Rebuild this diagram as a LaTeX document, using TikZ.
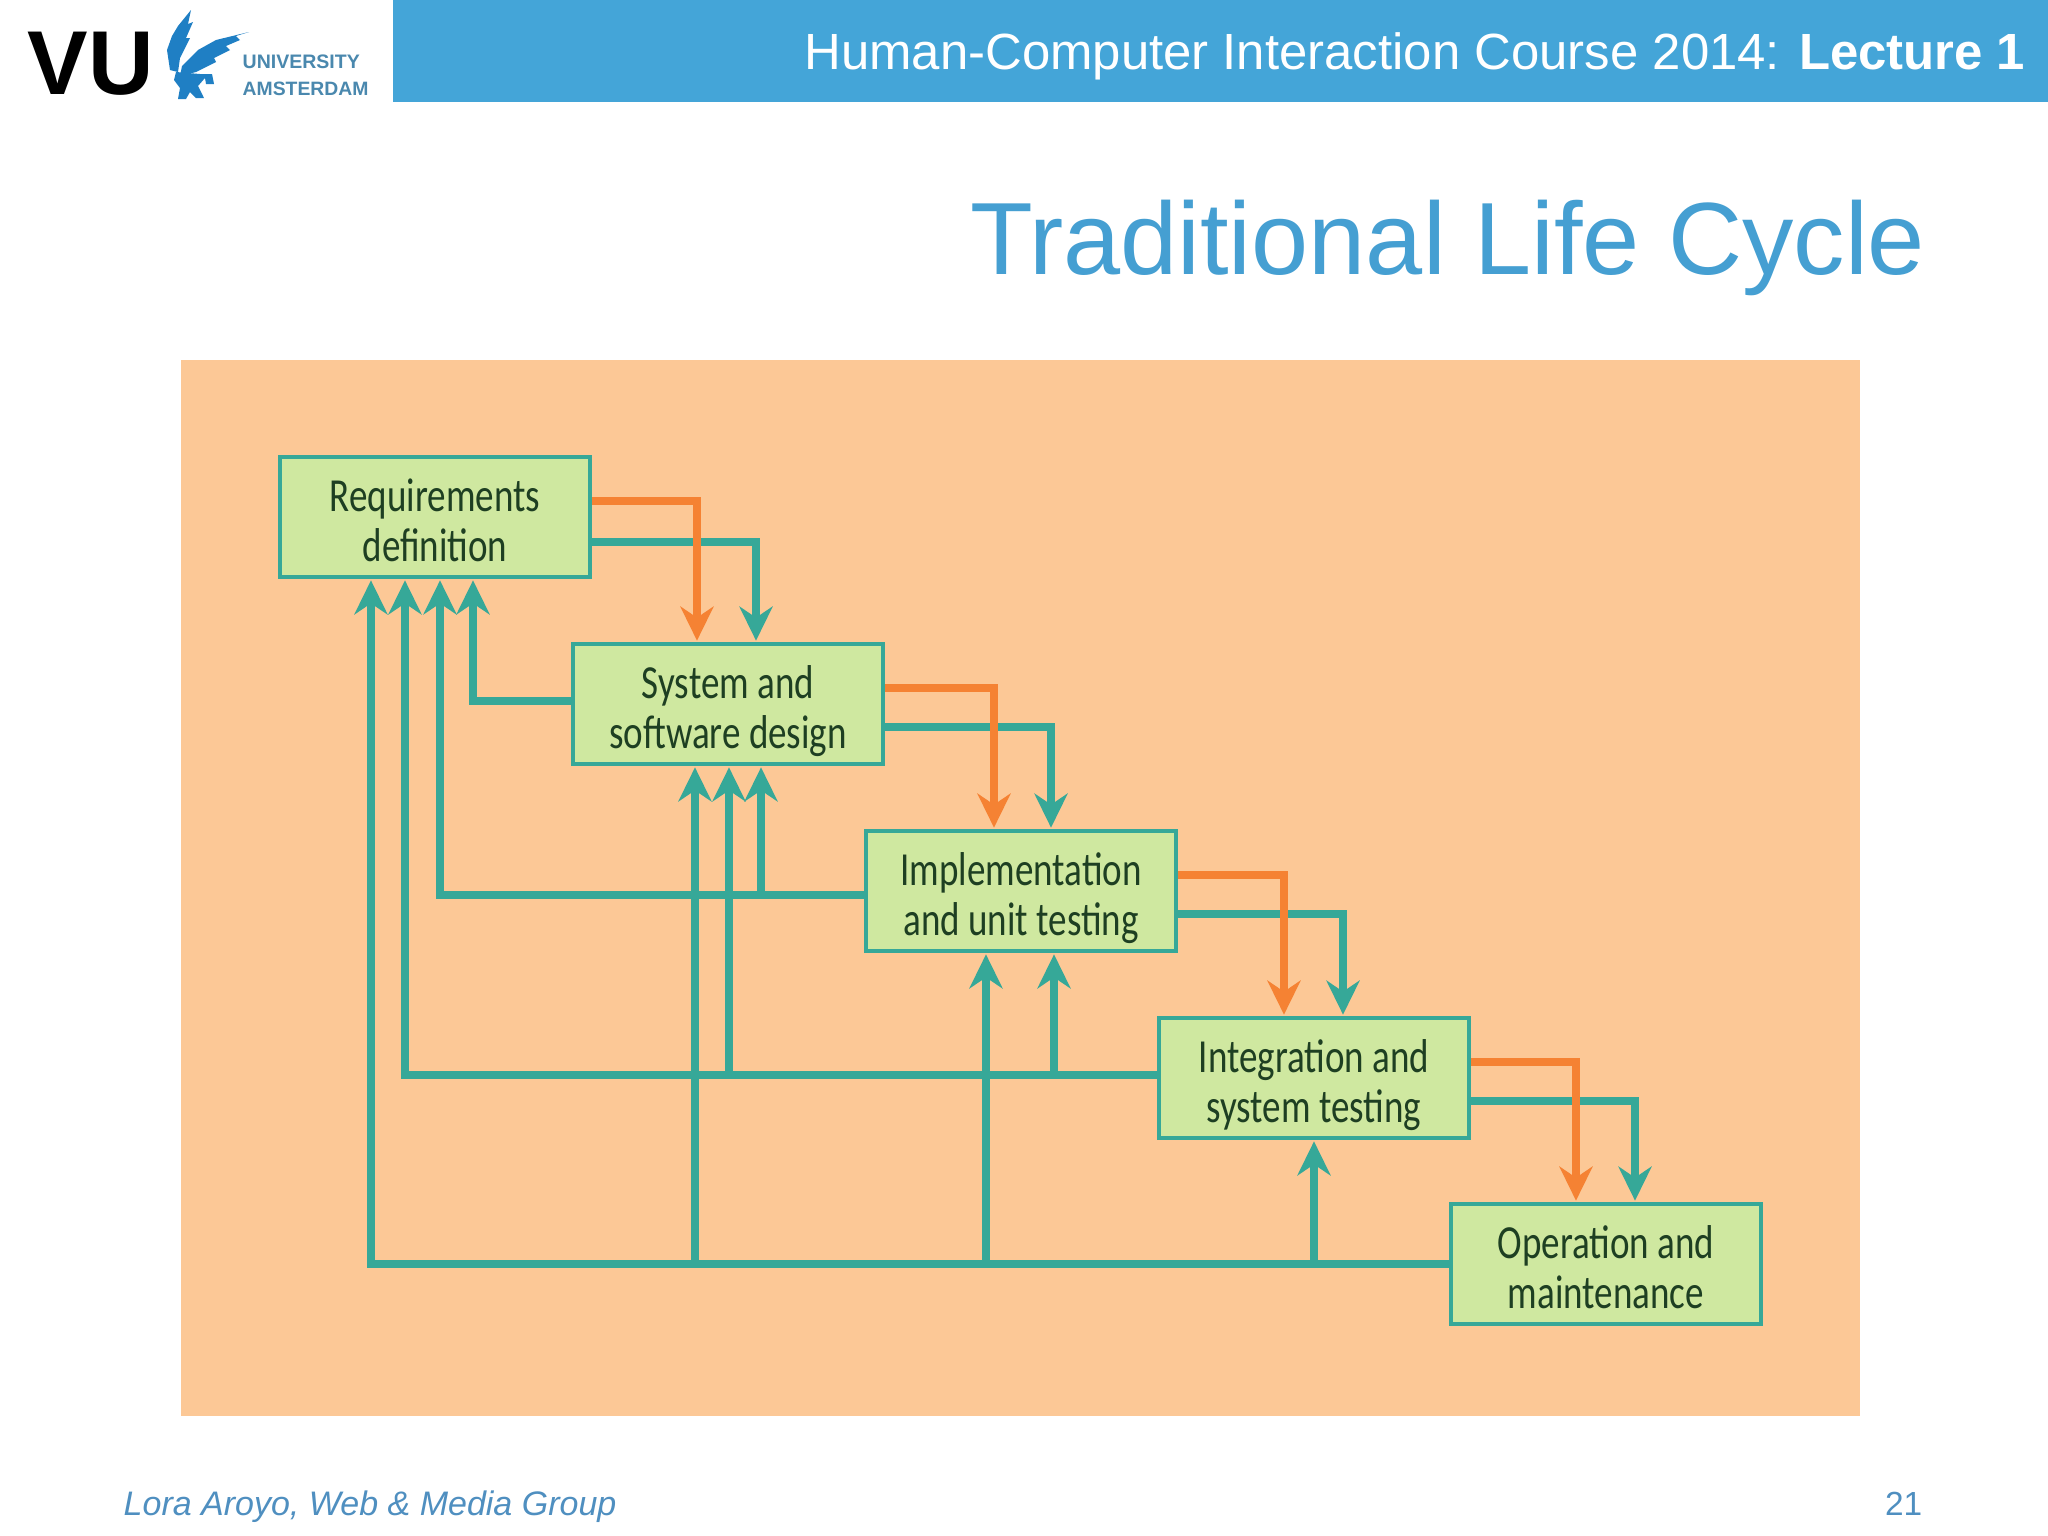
\documentclass[tikz,border=0pt]{standalone}
\usepackage{fontspec}
\setmainfont{Liberation Sans}
\newfontfamily\boxfont[FakeStretch=0.78]{Carlito}
\usetikzlibrary{arrows.meta}
\definecolor{headblue}{HTML}{44A5D8}
\definecolor{titleblue}{HTML}{459FD2}
\definecolor{footblue}{HTML}{4F8FC0}
\definecolor{panel}{HTML}{FCC896}
\definecolor{boxgreen}{HTML}{CFE8A0}
\definecolor{boxtext}{HTML}{1E3F22}
\definecolor{fbteal}{HTML}{36A898}
\definecolor{fworange}{HTML}{F58233}
\definecolor{logoblue}{HTML}{1F7FC4}
\definecolor{logotext}{HTML}{4A88AE}
\newcommand{\twolines}[2]{\rule{0pt}{.49cm}#1\\\rule[-.1cm]{0pt}{.1cm}#2}

\begin{document}
\begin{tikzpicture}[
  x=0.01cm, y=-0.01cm,
  stage/.style={rectangle, draw=fbteal, line width=1.3pt, fill=boxgreen, minimum width=3.1cm,
    minimum height=1.2cm, inner sep=0pt, align=center, text=boxtext,
    font=\boxfont\fontsize{13.5}{14.3}\selectfont},
  tline/.style={draw=fbteal, line width=2.3pt, shorten >=.1mm,
    -{Stealth[length=3.4mm,width=3.3mm,inset=1.1mm]}},
  oline/.style={tline, draw=fworange},
  barfill/.style={fill=headblue, draw=none},
  wing/.style={fill=logoblue, draw=none}
]
\useasboundingbox (0,0) rectangle (2048,1536);
\fill[white] (0,0) rectangle (2048,1536);

% header and logo
\path[barfill] (393,0) rectangle (2048,102);
\node[anchor=base east, inner sep=0pt, text=white, font=\fontsize{14.47}{16}\selectfont] (head) at (2026,69)
  {Human-Computer Interaction Course 2014: \textbf{Lecture 1}};
\node[anchor=base west, inner sep=0pt, text=black, font=\bfseries\fontsize{25.8}{28}\selectfont] (vu) at (27,94) {VU};
\path[wing] (191,10) -- (188,24) -- (193,22) -- (186,38) -- (190,38) -- (180,58) -- (178,72) -- (170,70)
  -- (167,50) -- (172,36) -- (178,26) -- cycle;
\path[wing] (249,32) -- (236,36) -- (240,40) -- (226,46) -- (230,50) -- (214,58) -- (216,62) -- (196,72)
  -- (180,76) -- (182,66) -- (198,50) -- (216,40) -- cycle;
\path[wing] (176,72) -- (200,74) -- (212,74) -- (214,84) -- (206,84) -- (205,78) -- (198,86) -- (204,98)
  -- (196,98) -- (190,92) -- (186,99) -- (178,99) -- (180,88) -- (174,80) -- cycle;
\node[anchor=base west, inner sep=0pt, text=logotext, font=\bfseries\fontsize{5.55}{7}\selectfont] (uni) at (242,68) {UNIVERSITY};
\node[anchor=base west, inner sep=0pt, text=logotext, font=\bfseries\fontsize{5.5}{7}\selectfont] (ams) at (242,95) {AMSTERDAM};

\node[anchor=base east, inner sep=0pt, text=titleblue, font=\fontsize{29.2}{32}\selectfont] (title) at (1926,274) {Traditional Life Cycle};

% panel
\fill[panel] (181,360) rectangle (1860,1416);

% stages
\node[stage] (req) at (435,517) {\twolines{Requirements}{definition}};
\node[stage] (sys) at (728,704) {\twolines{System and}{software design}};
\node[stage] (impl) at (1021,891) {\twolines{Implementation}{and unit testing}};
\node[stage] (integ) at (1314,1078) {\twolines{Integration and}{system testing}};
\node[stage] (oper) at (1606,1264) {\twolines{Operation and}{maintenance}};

% going back
\draw[tline] ([yshift=.03cm]sys.west) -| ([xshift=.38cm]req.south);
\draw[tline] ([yshift=-.04cm]impl.west) -| ([xshift=.05cm]req.south);
\draw[tline] ([yshift=-.04cm]impl.west) -| ([xshift=.33cm]sys.south);
\draw[tline] ([yshift=.03cm]integ.west) -| ([xshift=-.3cm]req.south);
\draw[tline] ([yshift=.03cm]integ.west) -| ([xshift=.01cm]sys.south);
\draw[tline] ([yshift=.03cm]integ.west) -| ([xshift=.33cm]impl.south);
\draw[tline] (oper.west) -| ([xshift=-.64cm]req.south);
\draw[tline] (oper.west) -| ([xshift=-.33cm]sys.south);
\draw[tline] (oper.west) -| ([xshift=-.35cm]impl.south);
\draw[tline] (oper.west) -| (integ.south);

% going forward
\draw[tline] ([yshift=-.25cm]req.east) -| ([xshift=.28cm]sys.north);
\draw[oline] ([yshift=.16cm]req.east) -| ([xshift=-.31cm]sys.north);
\draw[tline] ([yshift=-.23cm]sys.east) -| ([xshift=.3cm]impl.north);
\draw[oline] ([yshift=.16cm]sys.east) -| ([xshift=-.27cm]impl.north);
\draw[tline] ([yshift=-.23cm]impl.east) -| ([xshift=.29cm]integ.north);
\draw[oline] ([yshift=.16cm]impl.east) -| ([xshift=-.3cm]integ.north);
\draw[tline] ([yshift=-.23cm]integ.east) -| ([xshift=.29cm]oper.north);
\draw[oline] ([yshift=.16cm]integ.east) -| ([xshift=-.3cm]oper.north);

% footer
\node[anchor=base west, inner sep=0pt, text=footblue, font=\itshape\fontsize{9.67}{12}\selectfont] (foot) at (123,1515) {Lora Aroyo, Web \& Media Group};
\node[anchor=base east, inner sep=0pt, text=footblue, font=\fontsize{9.5}{12}\selectfont] (page) at (1923,1515) {21};
\end{tikzpicture}
\end{document}
